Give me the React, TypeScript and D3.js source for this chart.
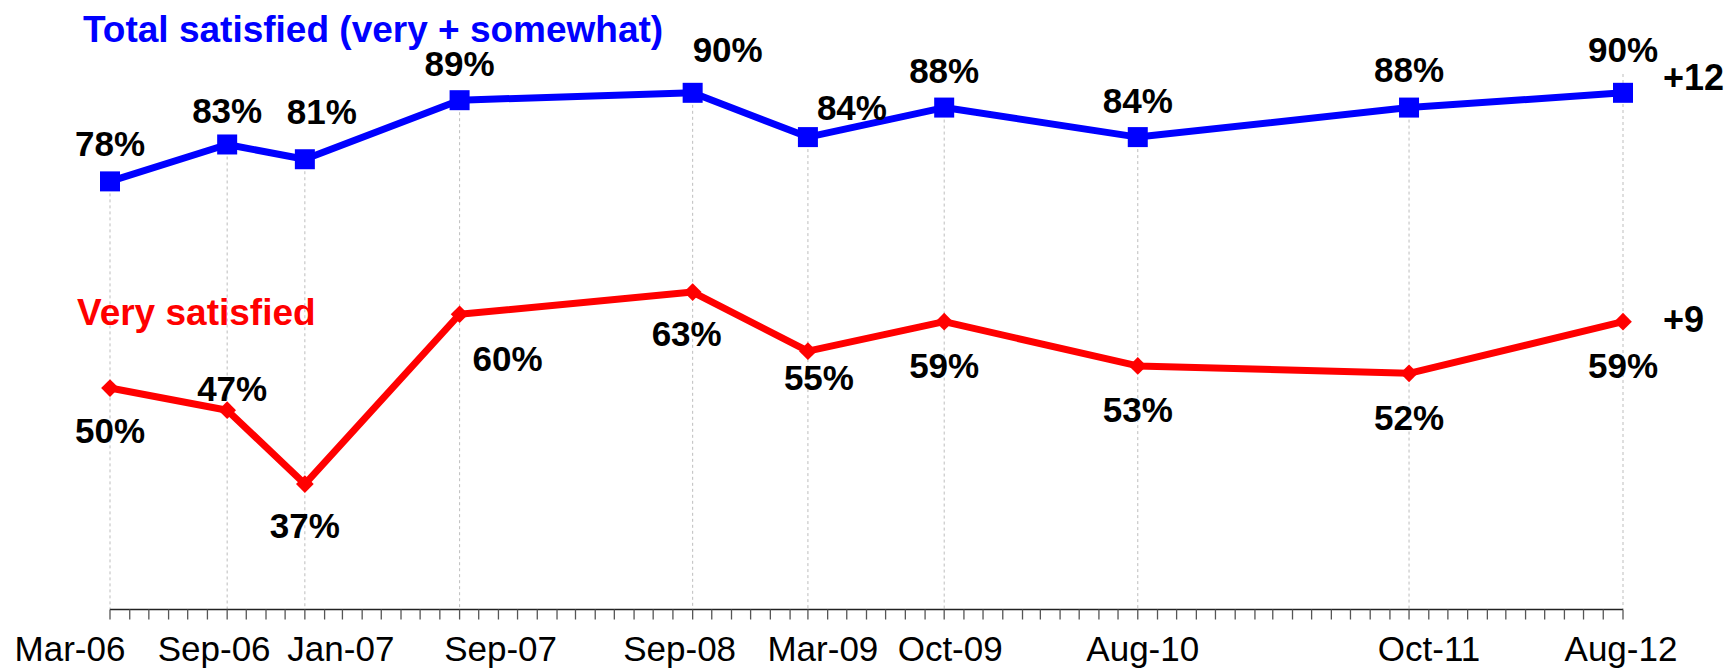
import * as d3 from 'd3';
import React from 'react';

// survey waves (last wave sits one month later on the time axis)
const waveDates = ['2006-03', '2006-09', '2007-01', '2007-09', '2008-09', '2009-03', '2009-10', '2010-08', '2011-10', '2012-09'];
const waveLabels = ['Mar-06', 'Sep-06', 'Jan-07', 'Sep-07', 'Sep-08', 'Mar-09', 'Oct-09', 'Aug-10', 'Oct-11', 'Aug-12'];

const totalSatisfied = [78, 83, 81, 89, 90, 84, 88, 84, 88, 90];
const verySatisfied = [50, 47, 37, 60, 63, 55, 59, 53, 52, 59];

const seriesNames = ['Total satisfied (very + somewhat)', 'Very satisfied'];
const changeLabels = ['+12', '+9'];

// label nudges (px), layout only
const totalLabelOffsets: [number, number][] = [[0, -38], [0, -34], [17, -48], [0, -37], [35, -43], [44, -30], [0, -37], [0, -37], [0, -38], [0, -43]];
const veryLabelOffsets: [number, number][] = [[0, 42], [5, -22], [0, 41], [48, 44], [-6, 41], [11, 26], [0, 44], [0, 43], [0, 44], [0, 44]];
const tickLabelDx = [-40, -13, 36, 41, -13, 15, 6, 5, 20, -2];

const W = 1735;
const H = 671;
const BLUE = '#0000ff';
const RED = '#ff0000';
const FONT = '"Liberation Sans", Arial, sans-serif';

export default function App() {
    const parse = d3.timeParse('%Y-%m');
    const dates = waveDates.map((d) => parse(d) as Date);
    const last = dates.length - 1;

    const x = d3.scaleTime().domain([dates[0], dates[last]]).range([110, 1623]);
    const y = d3.scaleLinear().domain([20, 100]).range([609.5, 19]);
    const axisY = y(20);

    const monthTicks = d3.timeMonth.range(dates[0], d3.timeMonth.offset(dates[last], 1));

    const line = d3
        .line<number>()
        .x((_, i) => x(dates[i]))
        .y((v) => y(v));

    const diamond = d3.symbol().type(d3.symbolDiamond2).size(200)();

    return (
        <div style={{ position: 'fixed', left: 0, top: 0 }}>
            <svg width={W} height={H} style={{ display: 'block', background: '#fff' }} fontFamily={FONT}>
                {/* drop lines */}
                {dates.map((d, i) => (
                    <line
                        key={`drop-${i}`}
                        x1={x(d)}
                        x2={x(d)}
                        y1={i === last ? 74 : y(totalSatisfied[i])}
                        y2={axisY}
                        stroke="#bdbdbd"
                        strokeWidth={1}
                        strokeDasharray="3,3"
                    />
                ))}

                {/* axis */}
                <line x1={x(dates[0])} x2={x(dates[last])} y1={axisY} y2={axisY} stroke="#222" strokeWidth={1.5} />
                {monthTicks.map((m, i) => (
                    <line key={`t-${i}`} x1={x(m)} x2={x(m)} y1={axisY} y2={axisY + 10} stroke="#555" strokeWidth={1.3} />
                ))}
                {dates.map((d, i) => (
                    <text key={`xl-${i}`} x={x(d) + tickLabelDx[i]} y={661} textAnchor="middle" fontSize={35} fill="#000">
                        {waveLabels[i]}
                    </text>
                ))}

                {/* lines */}
                <path d={line(totalSatisfied) ?? ''} fill="none" stroke={BLUE} strokeWidth={7} strokeLinejoin="round" />
                <path d={line(verySatisfied) ?? ''} fill="none" stroke={RED} strokeWidth={7} strokeLinejoin="round" />

                {/* markers */}
                {totalSatisfied.map((v, i) => (
                    <rect key={`sq-${i}`} x={x(dates[i]) - 10} y={y(v) - 10} width={20} height={20} fill={BLUE} />
                ))}
                {verySatisfied.map((v, i) => (
                    <path key={`dm-${i}`} d={diamond} transform={`translate(${x(dates[i])},${y(v)})`} fill={RED} />
                ))}

                {/* value labels */}
                {totalSatisfied.map((v, i) => (
                    <text
                        key={`tl-${i}`}
                        x={x(dates[i]) + totalLabelOffsets[i][0]}
                        y={y(v) + totalLabelOffsets[i][1]}
                        dy="0.36em"
                        textAnchor="middle"
                        fontSize={35}
                        fontWeight={700}
                        fill="#000"
                    >
                        {v}%
                    </text>
                ))}
                {verySatisfied.map((v, i) => (
                    <text
                        key={`vl-${i}`}
                        x={x(dates[i]) + veryLabelOffsets[i][0]}
                        y={y(v) + veryLabelOffsets[i][1]}
                        dy="0.36em"
                        textAnchor="middle"
                        fontSize={35}
                        fontWeight={700}
                        fill="#000"
                    >
                        {v}%
                    </text>
                ))}

                {/* change since first wave */}
                <text x={x(dates[last]) + 40} y={y(totalSatisfied[last]) - 16} dy="0.36em" fontSize={36} fontWeight={700}>
                    {changeLabels[0]}
                </text>
                <text x={x(dates[last]) + 40} y={y(verySatisfied[last]) - 3} dy="0.36em" fontSize={36} fontWeight={700}>
                    {changeLabels[1]}
                </text>

                {/* series names */}
                <text x={83} y={42} fontSize={37} fontWeight={700} fill={BLUE}>
                    {seriesNames[0]}
                </text>
                <text x={77} y={325} fontSize={37} fontWeight={700} fill={RED}>
                    {seriesNames[1]}
                </text>
            </svg>
        </div>
    );
}
